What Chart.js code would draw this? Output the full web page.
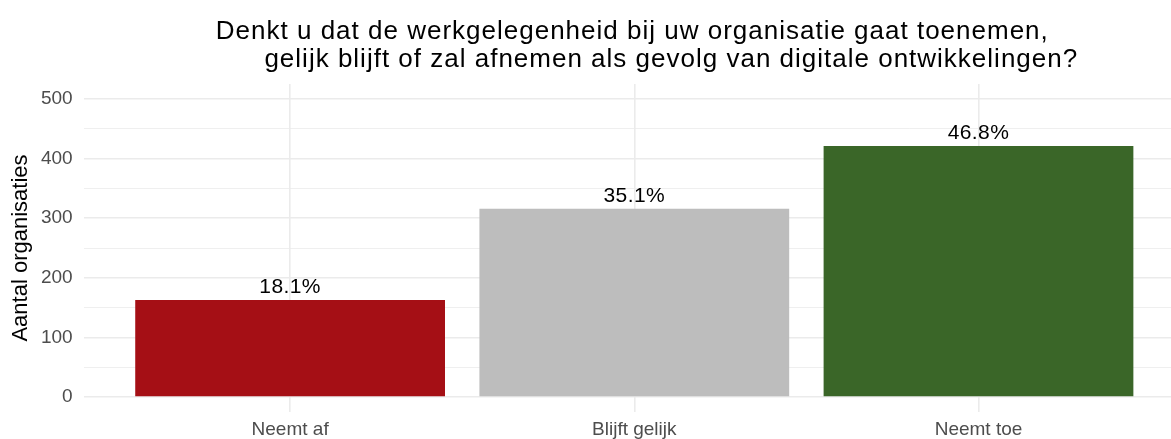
<!DOCTYPE html>
<html>
<head>
<meta charset="utf-8">
<script src="https://cdn.jsdelivr.net/npm/chart.js@4"></script>
<style>
  html, body { margin: 0; padding: 0; background: #fff; overflow: hidden; }
  #wrap { width: 1171px; height: 439px; overflow: hidden; }
</style>
</head>
<body>
<div id="wrap"><canvas id="chart" width="1185" height="439"></canvas></div>
<script>
/* =====================
   Data
   ===================== */

const categories = ['Neemt af', 'Blijft gelijk', 'Neemt toe'];
const counts = [163, 316, 421];
const barColors = ['#A50F15', '#BDBDBD', '#3A6628'];
const yTicks = [0, 50, 100, 150, 200, 250, 300, 350, 400, 450, 500];
const titleLines = [
  'Denkt u dat de werkgelegenheid bij uw organisatie gaat toenemen,',
  'gelijk blijft of zal afnemen als gevolg van digitale ontwikkelingen?',
];
const yAxisTitle = 'Aantal organisaties';

const FONT = "'Liberation Sans', Arial, sans-serif";
const total = counts.reduce((s, v) => s + v, 0);

// Two-line title, centred on the plot panel (second line nudged right)
const titlePlugin = {
  id: 'panelTitle',
  afterDraw(chart) {
    const { ctx, chartArea } = chart;
    const cx = (chartArea.left + chartArea.right) / 2;
    ctx.save();
    ctx.fillStyle = '#000';
    ctx.font = `26px ${FONT}`;
    ctx.letterSpacing = '1px';
    ctx.textAlign = 'center';
    ctx.textBaseline = 'alphabetic';
    ctx.fillText(titleLines[0], cx - 2, 39);
    ctx.fillText(titleLines[1], cx + 37, 67);
    ctx.restore();
  },
};

// Percentage labels above bars
const pctLabels = {
  id: 'pctLabels',
  afterDatasetsDraw(chart) {
    const { ctx } = chart;
    const meta = chart.getDatasetMeta(0);
    ctx.save();
    ctx.fillStyle = '#000';
    ctx.font = `21px ${FONT}`;
    ctx.letterSpacing = '0.4px';
    ctx.textAlign = 'center';
    ctx.textBaseline = 'alphabetic';
    meta.data.forEach((bar, i) => {
      const pct = (counts[i] / total * 100).toFixed(1) + '%';
      ctx.fillText(pct, bar.x, bar.y - 7);
    });
    ctx.restore();
  },
};

new Chart(document.getElementById('chart'), {
  type: 'bar',
  data: {
    datasets: [{
      data: counts.map((v, i) => ({ x: i, y: v })),
      backgroundColor: barColors,
      borderWidth: 0,
      categoryPercentage: 1,
      barPercentage: 0.9,
    }],
  },
  options: {
    responsive: false,
    animation: false,
    layout: { padding: { top: 84, left: 0, right: 0, bottom: 0 } },
    plugins: {
      legend: { display: false },
      tooltip: { enabled: false },
    },
    scales: {
      x: {
        type: 'linear',
        // discrete axis with ggplot-style 0.6 expansion either side
        min: -0.6,
        max: categories.length - 0.4,
        offset: false,
        border: { display: false },
        afterBuildTicks: (axis) => {
          axis.ticks = categories.map((_, i) => ({ value: i }));
        },
        grid: {
          offset: false,
          drawTicks: false,
          color: '#EBEBEB',
          lineWidth: 1.6,
        },
        ticks: {
          color: '#4D4D4D',
          font: { family: FONT, size: 19 },
          padding: 6,
          maxRotation: 0,
          autoSkip: false,
          callback: (v) => categories[v],
        },
        afterFit: (scale) => { scale.height = 27; },
      },
      y: {
        min: -25,
        max: 525,
        border: { display: false },
        afterBuildTicks: (axis) => {
          axis.ticks = yTicks.map(v => ({ value: v }));
        },
        grid: {
          drawTicks: false,
          color: '#EBEBEB',
          lineWidth: (ctx) => (ctx.tick && ctx.tick.value % 100 === 0 ? 1.6 : 0.8),
        },
        ticks: {
          color: '#4D4D4D',
          font: { family: FONT, size: 19 },
          padding: 11,
          autoSkip: false,
          callback: (v) => (v % 100 === 0 ? v : ''),
        },
        title: {
          display: true,
          text: yAxisTitle,
          color: '#000',
          font: { family: FONT, size: 22 },
          padding: { top: 8, bottom: 0 },
        },
        afterFit: (scale) => { scale.width = 83.6; },
      },
    },
  },
  plugins: [titlePlugin, pctLabels],
});
</script>
</body>
</html>
